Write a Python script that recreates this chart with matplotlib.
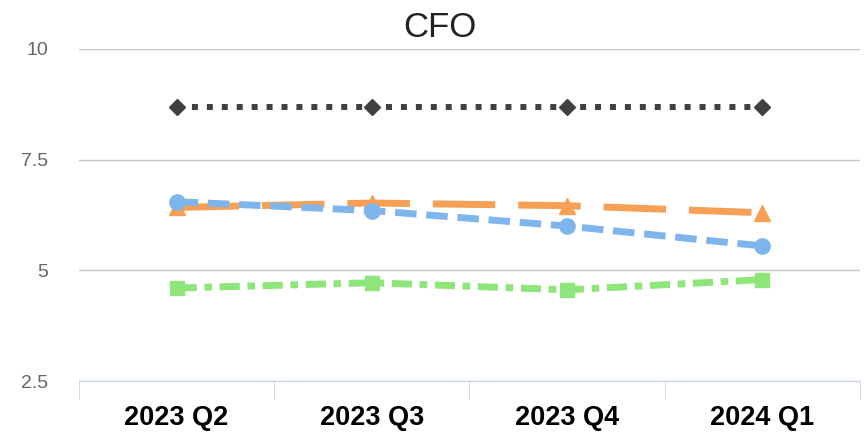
import matplotlib.pyplot as plt
import numpy as np

plt.rcParams["font.family"] = ["Liberation Sans", "DejaVu Sans"]

quarters = ["2023 Q2", "2023 Q3", "2023 Q4", "2024 Q1"]
black_vals = [8.7, 8.7, 8.7, 8.7]
blue_vals = [6.55, 6.35, 6.0, 5.55]
orange_vals = [6.42, 6.52, 6.46, 6.3]
green_vals = [4.6, 4.72, 4.56, 4.79]

fig = plt.figure(figsize=(8.64, 4.41), dpi=100)
ax = fig.add_axes([0.0914, 0.136, 0.904, 0.753])

x = np.arange(len(quarters))

ax.plot(x, black_vals, color="#404040", lw=4.3, linestyle=(0, (1, 1.5)),
        marker="D", ms=8, zorder=4)
ax.plot(x, orange_vals, color="#F5A055", lw=5, linestyle=(0, (9, 3.3)),
        marker="^", ms=11, zorder=3)
ax.plot(x, blue_vals, color="#7DB5EC", lw=5, linestyle=(0, (3.1, 1.4)),
        marker="o", ms=11, zorder=3)
ax.plot(x, green_vals, color="#8EE67A", lw=5, linestyle=(0, (2.9, 1.1, 1.1, 1.1)),
        marker="s", ms=10, zorder=3)

ax.set_xlim(-0.5, len(quarters) - 0.5)
ax.set_ylim(2.5, 10)
ax.set_yticks([2.5, 5, 7.5, 10])
ax.set_yticklabels(["2.5", "5", "7.5", "10"])
ax.grid(axis="y", color="#c4c4c4", lw=1)
ax.set_axisbelow(True)

for s in ["left", "right", "top"]:
    ax.spines[s].set_visible(False)
ax.spines["bottom"].set_color("#c5d3e3")

ax.set_xticks(x)
ax.set_xticklabels(quarters, fontsize=19.5, fontweight="bold", color="black")
ax.set_xticks(np.arange(-0.5, len(quarters)), minor=True)
ax.tick_params(axis="x", which="major", length=0, pad=17)
ax.tick_params(axis="x", which="minor", length=13, color="#c5d3e3")
ax.tick_params(axis="y", length=0, labelsize=14, labelcolor="#666666", pad=22)

fig.text(0.509, 0.937, "CFO", fontsize=25, color="#222222", ha="center", va="center")

fig.savefig("out.png")
